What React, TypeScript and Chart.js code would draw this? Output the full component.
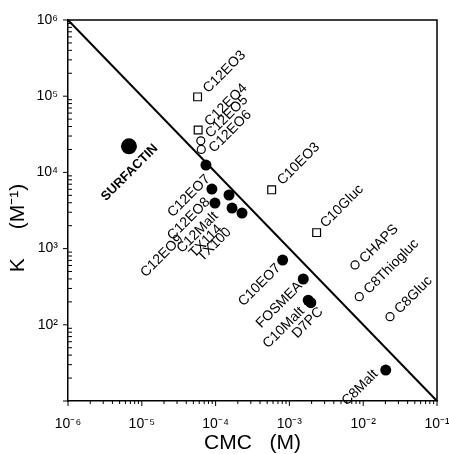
import React, { useEffect, useRef } from 'react';
import { Chart, registerables } from 'chart.js';

Chart.register(...registerables);

// ---- Data ----
const surfactinNames = ['SURFACTIN'];
const surfactinCMC = [6.7e-6];
const surfactinK = [2.2e4];

const filledNames = ['C12EO7', 'C12EO8', 'C12Malt', 'C12EO9', 'TX114', 'TX100', 'C10EO7', 'FOSMEA', 'C10Malt', 'D7PC', 'C8Malt'];
const filledCMC = [7.4e-5, 8.9e-5, 1.52e-4, 9.8e-5, 1.67e-4, 2.28e-4, 8.1e-4, 1.54e-3, 1.8e-3, 1.95e-3, 2.02e-2];
const filledK = [1.25e4, 6.05e3, 5.05e3, 3.96e3, 3.4e3, 2.93e3, 708, 399, 210, 195, 25.5];

const squareNames = ['C12EO3', 'C12EO4', 'C10EO3', 'C10Gluc'];
const squareCMC = [5.7e-5, 5.8e-5, 5.75e-4, 2.34e-3];
const squareK = [9.8e4, 3.6e4, 5.9e3, 1.62e3];

const openCircleNames = ['C12EO5', 'C12EO6', 'CHAPS', 'C8Thiogluc', 'C8Gluc'];
const openCircleCMC = [6.3e-5, 6.4e-5, 7.75e-3, 8.85e-3, 2.31e-2];
const openCircleK = [2.6e4, 2.0e4, 610, 234, 128];

const lineCMC = [1e-6, 1e-1];
const lineK = [1e6, 1e1];

const xTickExponents = [-6, -5, -4, -3, -2, -1];
const yTickExponents = [2, 3, 4, 5, 6];
const xMin = 1e-6;
const xMax = 1e-1;
const yMin = 1e1;
const yMax = 1e6;

const xTitle = 'CMC   (M)';
const yTitle = 'K     (M\u207B\u00B9)';

// ---- Layout / style helpers ----
const FONT = "'Liberation Sans', Arial, Helvetica, sans-serif";

const SUP: Record<string, string> = {
  '-': '\u207B', '0': '\u2070', '1': '\u00B9', '2': '\u00B2', '3': '\u00B3',
  '4': '\u2074', '5': '\u2075', '6': '\u2076', '7': '\u2077', '8': '\u2078', '9': '\u2079',
};
const pow10Label = (e: number) => '10' + String(e).split('').map((c) => SUP[c]).join('');

const tickCallback = (exps: number[]) => (value: any) => {
  const v = Number(value);
  const l = Math.log10(v);
  const r = Math.round(l);
  if (Math.abs(l - r) < 1e-6 && exps.includes(r)) return pow10Label(r);
  return '';
};

const pts = (xs: number[], ys: number[]) => xs.map((x, i) => ({ x, y: ys[i] }));

// label offsets (px) relative to the marker centre
const LABEL_OFFSETS: Record<string, [number, number]> = {
  SURFACTIN: [27, 0],
  C12EO7: [2, 12],
  C12EO8: [-4, 11],
  C12EO9: [-34, 34],
  C12Malt: [-13, 19],
  TX114: [-12, 19],
  TX100: [-13, 17],
  C10EO7: [-4, 6],
  FOSMEA: [-3, 5],
  C10Malt: [-6, 9],
  D7PC: [10, 7],
  C8Malt: [-10, 2],
  C12EO3: [8, -6],
  C12EO4: [9, -6],
  C12EO5: [7, -5],
  C12EO6: [10, 1],
  C10EO3: [8, -7],
  C10Gluc: [6, -7],
  CHAPS: [7, -4],
  C8Thiogluc: [7, -5],
  C8Gluc: [7, -5],
};

const labelPlugin = {
  id: 'pointLabels',
  afterDatasetsDraw(chart: any) {
    const ctx = chart.ctx;
    chart.data.datasets.forEach((ds: any, i: number) => {
      const names: string[] | undefined = ds.names;
      if (!names) return;
      const meta = chart.getDatasetMeta(i);
      meta.data.forEach((el: any, j: number) => {
        const name = names[j];
        const off = LABEL_OFFSETS[name] || [0, 0];
        ctx.save();
        ctx.translate(el.x + off[0], el.y + off[1]);
        ctx.rotate(-Math.PI / 4);
        ctx.font = ds.labelFont;
        ctx.fillStyle = '#000';
        ctx.textAlign = ds.labelSide === 'right' ? 'left' : 'right';
        ctx.textBaseline = 'middle';
        ctx.fillText(name, 0, 0);
        ctx.restore();
      });
    });
  },
};

const framePlugin = {
  id: 'frameAndTicks',
  afterDraw(chart: any) {
    const ctx = chart.ctx;
    const { left, right, top, bottom } = chart.chartArea;
    const xs = chart.scales.x;
    const ys = chart.scales.y;
    ctx.save();
    ctx.strokeStyle = '#000';
    ctx.lineWidth = 1.5;
    ctx.beginPath();
    ctx.moveTo(left, top);
    ctx.lineTo(right, top);
    ctx.lineTo(right, bottom);
    ctx.stroke();

    ctx.lineWidth = 1;
    ctx.beginPath();
    // x ticks (outward)
    for (let e = -6; e <= -1; e++) {
      const px = xs.getPixelForValue(Math.pow(10, e));
      ctx.moveTo(px, bottom);
      ctx.lineTo(px, bottom + 5);
      if (e < -1) {
        for (let d = 2; d <= 9; d++) {
          const mx = xs.getPixelForValue(d * Math.pow(10, e));
          ctx.moveTo(mx, bottom);
          ctx.lineTo(mx, bottom + 3);
        }
      }
    }
    // y ticks: majors outward, minors inward
    for (let e = 1; e <= 6; e++) {
      const py = ys.getPixelForValue(Math.pow(10, e));
      ctx.moveTo(left - 5, py);
      ctx.lineTo(left, py);
      if (e < 6) {
        for (let d = 2; d <= 9; d++) {
          const my = ys.getPixelForValue(d * Math.pow(10, e));
          ctx.moveTo(left, my);
          ctx.lineTo(left + 4, my);
        }
      }
    }
    ctx.stroke();
    ctx.restore();
  },
};

export default function App() {
  const ref = useRef<HTMLCanvasElement>(null);

  useEffect(() => {
    document.body.style.margin = '0';
    Chart.defaults.font.family = FONT;
    Chart.defaults.color = '#000';

    const labelFont = `14px ${FONT}`;

    const chart = new Chart(ref.current as HTMLCanvasElement, {
      type: 'scatter',
      data: {
        datasets: [
          {
            data: pts(surfactinCMC, surfactinK),
            names: surfactinNames,
            labelSide: 'left',
            labelFont: `bold 13px ${FONT}`,
            pointRadius: 8,
            pointBackgroundColor: '#000',
            pointBorderColor: '#000',
            pointBorderWidth: 0,
          },
          {
            data: pts(filledCMC, filledK),
            names: filledNames,
            labelSide: 'left',
            labelFont,
            pointRadius: 5.5,
            pointBackgroundColor: '#000',
            pointBorderColor: '#000',
            pointBorderWidth: 0,
          },
          {
            data: pts(squareCMC, squareK),
            names: squareNames,
            labelSide: 'right',
            labelFont,
            pointStyle: 'rect',
            pointRadius: 5.5,
            pointBackgroundColor: '#fff',
            pointBorderColor: '#000',
            pointBorderWidth: 1.2,
          },
          {
            data: pts(openCircleCMC, openCircleK),
            names: openCircleNames,
            labelSide: 'right',
            labelFont,
            pointRadius: 4,
            pointBackgroundColor: '#fff',
            pointBorderColor: '#000',
            pointBorderWidth: 1.2,
          },
          {
            data: pts(lineCMC, lineK),
            showLine: true,
            pointRadius: 0,
            borderColor: '#000',
            borderWidth: 2,
            fill: false,
          },
        ] as any,
      },
      options: {
        animation: false,
        responsive: true,
        maintainAspectRatio: false,
        events: [],
        layout: { padding: { top: 20, right: 12, left: 0, bottom: 0 } },
        plugins: {
          legend: { display: false },
          tooltip: { enabled: false },
        },
        scales: {
          x: {
            type: 'logarithmic',
            min: xMin,
            max: xMax,
            afterFit: (s: any) => {
              s.height = 53;
              s.paddingLeft = 0;
              s.paddingRight = 0;
            },
            border: { display: true, color: '#000', width: 1.5 },
            grid: { drawOnChartArea: false, drawTicks: true, tickLength: 5, tickColor: 'rgba(0,0,0,0)' },
            ticks: {
              autoSkip: false,
              maxRotation: 0,
              padding: 10,
              font: { size: 14, family: FONT },
              color: '#000',
              callback: tickCallback(xTickExponents),
            },
            title: {
              display: true,
              text: xTitle,
              font: { size: 21, family: FONT, lineHeight: 1 },
              color: '#000',
              padding: { top: 0, bottom: 0 },
            },
          },
          y: {
            type: 'logarithmic',
            min: yMin,
            max: yMax,
            afterFit: (s: any) => {
              s.width = 68;
              s.paddingTop = 0;
              s.paddingBottom = 0;
            },
            border: { display: true, color: '#000', width: 1.5 },
            grid: { drawOnChartArea: false, drawTicks: true, tickLength: 5, tickColor: 'rgba(0,0,0,0)' },
            ticks: {
              autoSkip: false,
              padding: 5,
              font: { size: 14, family: FONT },
              color: '#000',
              callback: tickCallback(yTickExponents),
            },
            title: {
              display: true,
              text: yTitle + '      ',
              font: { size: 21, family: FONT, lineHeight: 1 },
              color: '#000',
              padding: { top: 8, bottom: 0 },
            },
          },
        },
      } as any,
      plugins: [labelPlugin, framePlugin],
    });
    return () => chart.destroy();
  }, []);

  return (
    <div style={{ width: 449, height: 454, position: 'relative' }}>
      <canvas ref={ref} />
    </div>
  );
}
